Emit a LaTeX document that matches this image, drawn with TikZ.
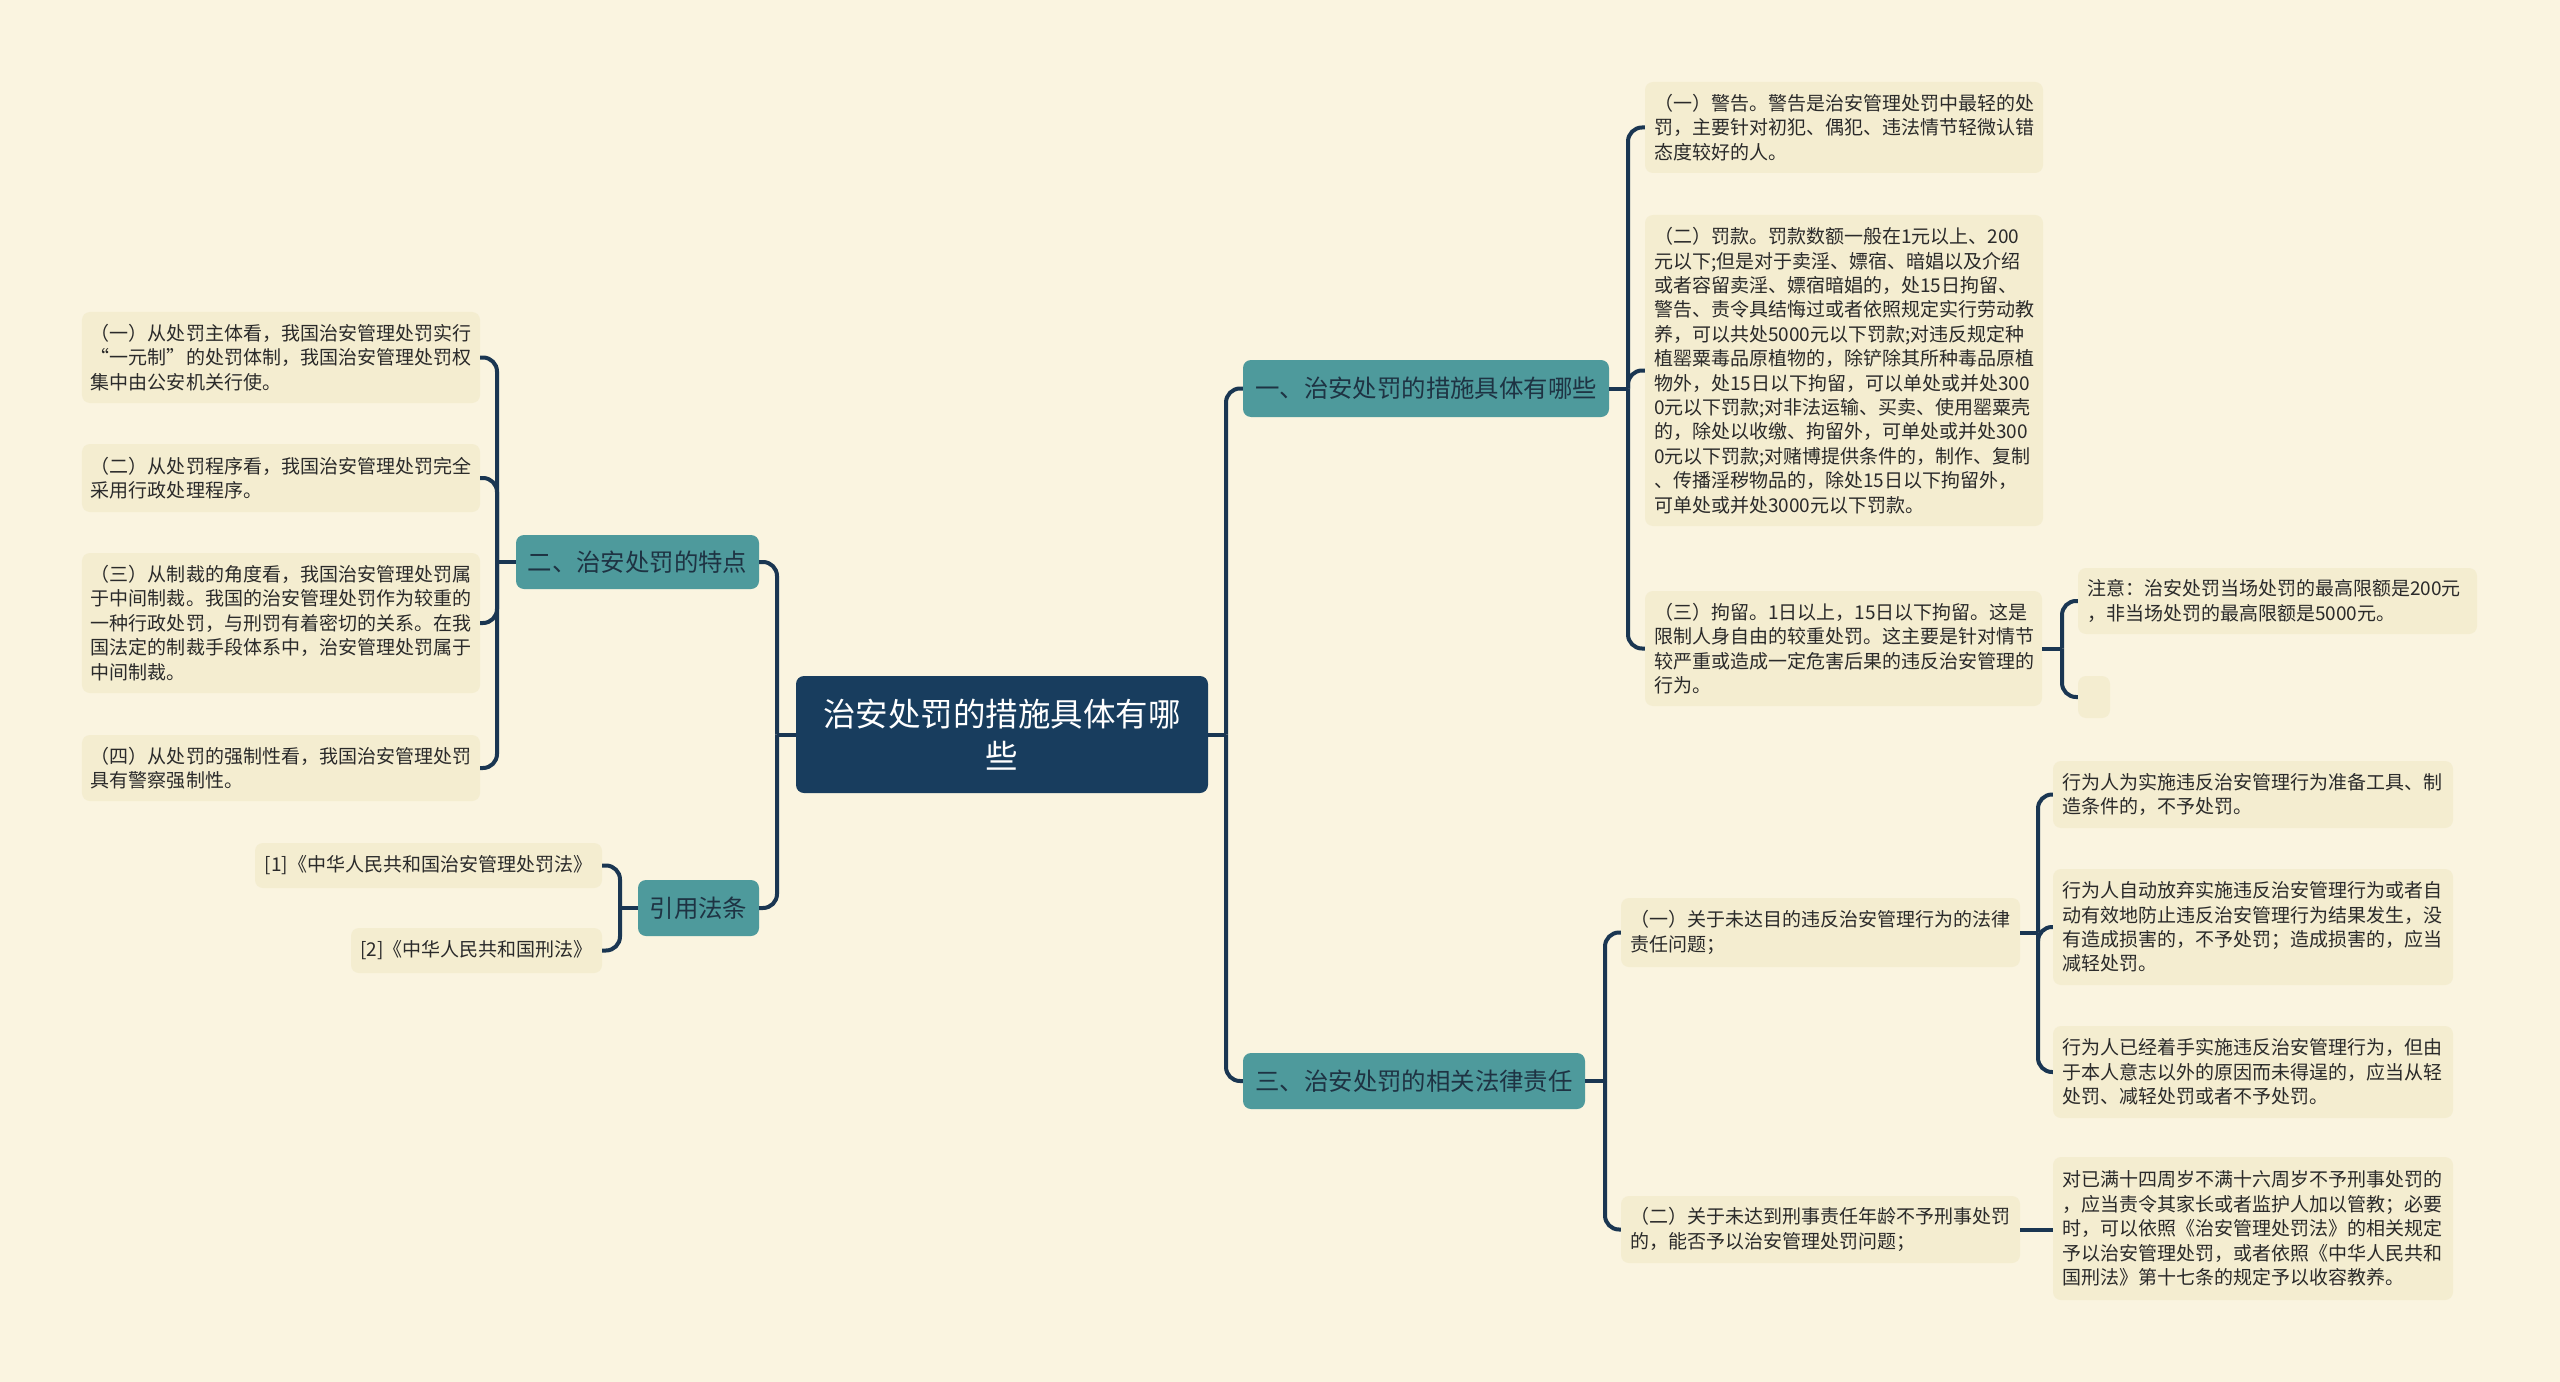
\documentclass[tikz,border=0pt]{standalone}
\usepackage{fontspec}
\setmainfont{Noto Sans CJK SC}
\definecolor{bgc}{HTML}{FAF4E0}
\definecolor{leafc}{HTML}{F4EDD0}
\definecolor{tealc}{HTML}{4E9A9C}
\definecolor{navyc}{HTML}{183D5E}
\definecolor{linec}{HTML}{1A3652}
\definecolor{txtc}{HTML}{2A2A2A}
\definecolor{ttxt}{HTML}{1E3343}
\tikzset{
  leaf/.style={fill=leafc, rounded corners=8bp, inner xsep=9bp, inner ysep=0bp,
    align=left, text=txtc, font=\fontsize{19bp}{24.4bp}\selectfont},
  cleaf/.style={fill=leafc, rounded corners=8bp, inner sep=0bp, align=center,
    text=txtc, font=\fontsize{19bp}{24.4bp}\selectfont},
  topic/.style={fill=tealc, rounded corners=8bp, inner sep=0bp, align=center,
    text=ttxt, font=\fontsize{24.4bp}{30bp}\selectfont},
  root/.style={fill=navyc, rounded corners=8bp, inner sep=0bp, align=center,
    text=white, font=\fontsize{32.5bp}{42bp}\selectfont},
  conn/.style={draw=linec, line width=4bp, rounded corners=14bp}
}
\begin{document}
\begin{tikzpicture}[x=1bp,y=-1bp]
\fill[bgc] (0,0) rectangle (2560,1382);
\useasboundingbox (0,0) rectangle (2560,1382);

% root
\node[root, minimum width=412bp, minimum height=117bp] (C) at (1002,734.5)
  {治安处罚的措施具体有哪\\些};

% left topics
\node[topic, minimum width=243bp, minimum height=54bp] (T2) at (637.5,562) {二、治安处罚的特点};
\node[topic, minimum width=121bp, minimum height=56bp] (T4) at (698.5,908) {引用法条};
% right topics
\node[topic, minimum width=366bp, minimum height=57bp] (T1) at (1426,388.5) {一、治安处罚的措施具体有哪些};
\node[topic, minimum width=342bp, minimum height=56bp] (T3) at (1414,1081) {三、治安处罚的相关法律责任};

% left leaves
\node[leaf, minimum width=398bp, minimum height=91bp, text width=380bp] (L1) at (281,357.5)
  {（一）从处罚主体看，我国治安管理处罚实行\\“一元制”的处罚体制，我国治安管理处罚权\\集中由公安机关行使。};
\node[leaf, minimum width=398bp, minimum height=68bp, text width=380bp] (L2) at (281,478)
  {（二）从处罚程序看，我国治安管理处罚完全\\采用行政处理程序。};
\node[leaf, minimum width=398bp, minimum height=140bp, text width=380bp] (L3) at (281,623)
  {（三）从制裁的角度看，我国治安管理处罚属\\于中间制裁。我国的治安管理处罚作为较重的\\一种行政处罚，与刑罚有着密切的关系。在我\\国法定的制裁手段体系中，治安管理处罚属于\\中间制裁。};
\node[leaf, minimum width=398bp, minimum height=66bp, text width=380bp] (L4) at (281,768)
  {（四）从处罚的强制性看，我国治安管理处罚\\具有警察强制性。};

\node[cleaf, minimum width=347bp, minimum height=45bp] (R1) at (428.5,865.5) {[1]《中华人民共和国治安管理处罚法》};
\node[cleaf, minimum width=251bp, minimum height=45bp] (R2) at (476.5,950.5) {[2]《中华人民共和国刑法》};

% right leaves of T1
\node[leaf, minimum width=398bp, minimum height=91bp, text width=380bp] (A1) at (1844,127.5)
  {（一）警告。警告是治安管理处罚中最轻的处\\罚，主要针对初犯、偶犯、违法情节轻微认错\\态度较好的人。};
\node[leaf, minimum width=398bp, minimum height=311bp, text width=380bp] (A2) at (1844,370.5)
  {（二）罚款。罚款数额一般在1元以上、200\\元以下;但是对于卖淫、嫖宿、暗娼以及介绍\\或者容留卖淫、嫖宿暗娼的，处15日拘留、\\警告、责令具结悔过或者依照规定实行劳动教\\养，可以共处5000元以下罚款;对违反规定种\\植罂粟毒品原植物的，除铲除其所种毒品原植\\物外，处15日以下拘留，可以单处或并处300\\0元以下罚款;对非法运输、买卖、使用罂粟壳\\的，除处以收缴、拘留外，可单处或并处300\\0元以下罚款;对赌博提供条件的，制作、复制\\、传播淫秽物品的，除处15日以下拘留外，\\可单处或并处3000元以下罚款。};
\node[leaf, minimum width=397bp, minimum height=115bp, text width=379bp] (A3) at (1843.5,648.5)
  {（三）拘留。1日以上，15日以下拘留。这是\\限制人身自由的较重处罚。这主要是针对情节\\较严重或造成一定危害后果的违反治安管理的\\行为。};
\node[leaf, minimum width=399bp, minimum height=66bp, text width=381bp] (N1) at (2277.5,601)
  {注意：治安处罚当场处罚的最高限额是200元\\，非当场处罚的最高限额是5000元。};
\node[cleaf, minimum width=32bp, minimum height=42bp] (N2) at (2094,697) {};

% right leaves of T3
\node[leaf, minimum width=399bp, minimum height=69bp, text width=381bp] (B1) at (1820.5,932.5)
  {（一）关于未达目的违反治安管理行为的法律\\责任问题；};
\node[leaf, minimum width=399bp, minimum height=67bp, text width=381bp] (B2) at (1820.5,1229.5)
  {（二）关于未达到刑事责任年龄不予刑事处罚\\的，能否予以治安管理处罚问题；};
\node[leaf, minimum width=400bp, minimum height=67bp, text width=382bp] (C1) at (2253,794.5)
  {行为人为实施违反治安管理行为准备工具、制\\造条件的，不予处罚。};
\node[leaf, minimum width=400bp, minimum height=116bp, text width=382bp] (C2) at (2253,927)
  {行为人自动放弃实施违反治安管理行为或者自\\动有效地防止违反治安管理行为结果发生，没\\有造成损害的，不予处罚；造成损害的，应当\\减轻处罚。};
\node[leaf, minimum width=400bp, minimum height=92bp, text width=382bp] (C3) at (2253,1072)
  {行为人已经着手实施违反治安管理行为，但由\\于本人意志以外的原因而未得逞的，应当从轻\\处罚、减轻处罚或者不予处罚。};
\node[leaf, minimum width=400bp, minimum height=143bp, text width=382bp] (D1) at (2253,1228.5)
  {对已满十四周岁不满十六周岁不予刑事处罚的\\，应当责令其家长或者监护人加以管教；必要\\时，可以依照《治安管理处罚法》的相关规定\\予以治安管理处罚，或者依照《中华人民共和\\国刑法》第十七条的规定予以收容教养。};

% junction coordinates
\coordinate (jCL) at (777,734.5);
\coordinate (jCR) at (1226,734.5);
\coordinate (jT2) at (497,562);
\coordinate (jT4) at (620,908);
\coordinate (jT1) at (1628,388.5);
\coordinate (jT3) at (1605,1081);
\coordinate (jA3) at (2062,648.5);
\coordinate (jB1) at (2038,932.5);

% root connectors
\draw[conn] (C.west) -- (jCL);
\draw[conn] (jCL) |- (T2.east);
\draw[conn] (jCL) |- (T4.east);
\draw[conn] (C.east) -- (jCR);
\draw[conn] (jCR) |- (T1.west);
\draw[conn] (jCR) |- (T3.west);

% T2
\draw[conn] (T2.west) -- (jT2);
\draw[conn] (jT2) |- (L1.east);
\draw[conn] (jT2) |- (L2.east);
\draw[conn] (jT2) |- (L3.east);
\draw[conn] (jT2) |- (L4.east);
% T4
\draw[conn] (T4.west) -- (jT4);
\draw[conn] (jT4) |- (R1.east);
\draw[conn] (jT4) |- (R2.east);
% T1
\draw[conn] (T1.east) -- (jT1);
\draw[conn] (jT1) |- (A1.west);
\draw[conn] (jT1) |- (A2.west);
\draw[conn] (jT1) |- (A3.west);
% A3
\draw[conn] (A3.east) -- (jA3);
\draw[conn] (jA3) |- (N1.west);
\draw[conn] (jA3) |- (N2.west);
% T3
\draw[conn] (T3.east) -- (jT3);
\draw[conn] (jT3) |- (B1.west);
\draw[conn] (jT3) |- (B2.west);
% B1
\draw[conn] (B1.east) -- (jB1);
\draw[conn] (jB1) |- (C1.west);
\draw[conn] (jB1) |- (C2.west);
\draw[conn] (jB1) |- (C3.west);
% B2
\draw[conn] (B2.east) -- (B2.east -| D1.west);
\end{tikzpicture}
\end{document}
